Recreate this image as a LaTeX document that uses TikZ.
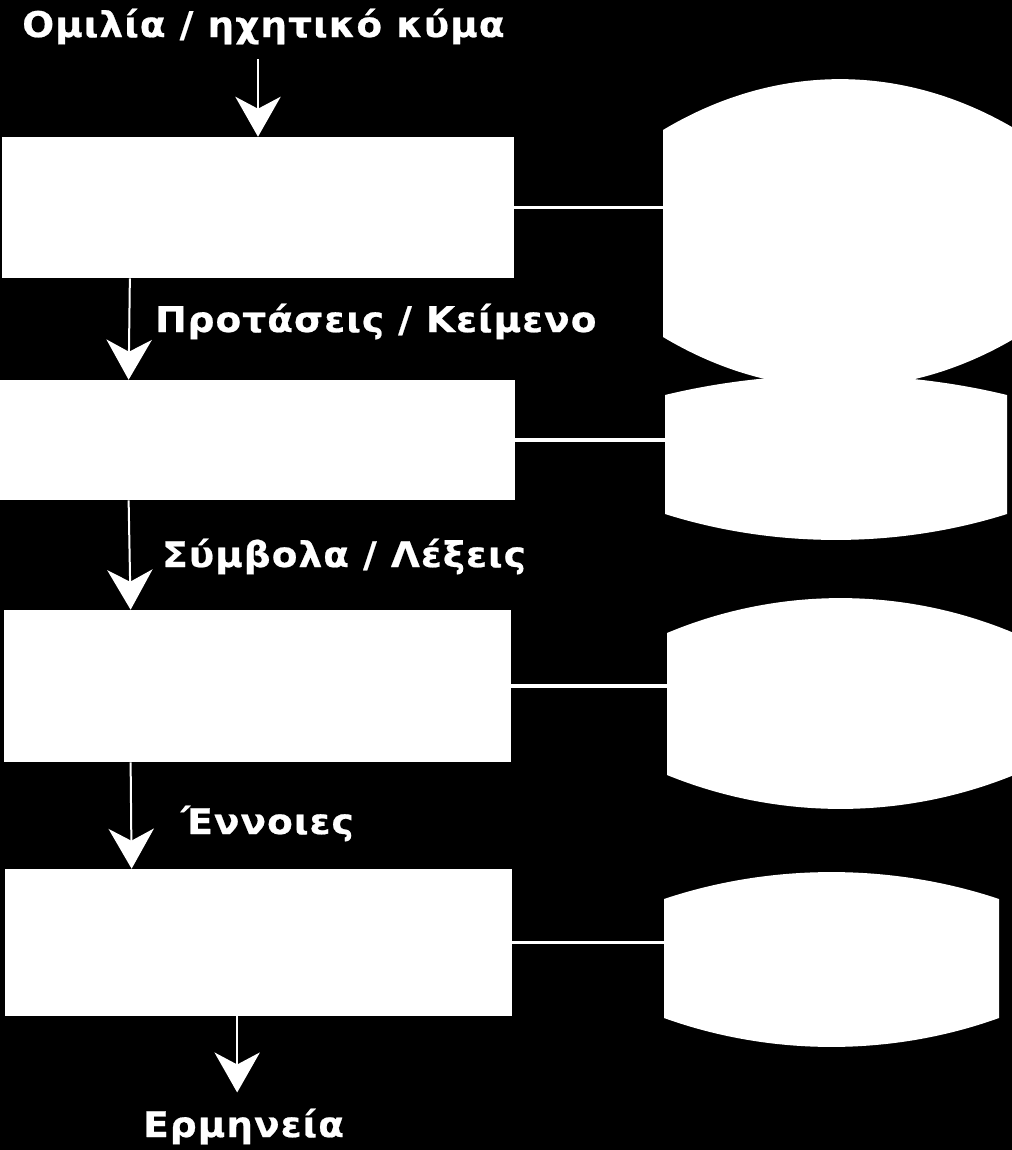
\documentclass[tikz,border=0pt]{standalone}
\usepackage{fontspec}
\setmainfont{DejaVu Sans}[LetterSpace=3,FakeStretch=1.06,FakeBold=0.6]
\usetikzlibrary{arrows.meta,calc}
% name, left, right, top, bottom, bulge top, bulge bottom (pixel units)
\newcommand{\barrelshape}[7]{%
  \fill[white] (#2,#4) .. controls ({#2+0.32*(#3-#2)},{#4-1.33*#6}) and ({#3-0.32*(#3-#2)},{#4-1.33*#6}) .. (#3,#4)
    -- (#3,#5) .. controls ({#3-0.32*(#3-#2)},{#5+1.33*#7}) and ({#2+0.32*(#3-#2)},{#5+1.33*#7}) .. (#2,#5) -- cycle;
  \coordinate (#1) at (#2,{(#4+#5)/2});}

\begin{document}
\begin{tikzpicture}[x=0.75pt,y=-0.75pt,font=\bfseries\fontsize{26.5}{30}\selectfont,
  blk/.style={fill=white,inner sep=0pt},
  ed/.style={-{Stealth[length=30pt,width=34pt,inset=9pt]},white,line width=1.5pt},
  lnk/.style={white,line width=2.4pt},
  lab/.style={text=white,inner sep=0pt,anchor=base west}]
\useasboundingbox (0,0) rectangle (1012,1150);
\fill[black] (0,0) rectangle (1012,1150);
\clip (0,0) rectangle (1012,1150);
% stages
\node[blk,minimum width=384pt,minimum height=105.75pt] (b1) at (258,207.5) {};
\node[blk,minimum width=386.25pt,minimum height=90pt] (b2) at (257.5,440) {};
\node[blk,minimum width=380.25pt,minimum height=114pt] (b3) at (257.5,686) {};
\node[blk,minimum width=380.25pt,minimum height=110.25pt] (b4) at (258.5,942.5) {};
% side shapes
\barrelshape{w1}{663}{1017}{130}{337}{51}{51}
\barrelshape{w2}{665}{1007}{395}{514}{20}{26}
\barrelshape{w3}{667}{1014}{633}{775}{35}{34}
\barrelshape{w4}{664}{999}{899}{1018}{27}{29}
% labels
\node[lab] (in) at (22,37) {Ομιλία / ηχητικό κύμα};
\node[lab] (t1) at (155,332) {Προτάσεις / Κείμενο};
\node[lab] (t2) at (162,567) {Σύμβολα / Λέξεις};
\node[lab] (t3) at (181,834) {Έννοιες};
\node[lab] (out) at (143,1137) {Ερμηνεία};
% arrows
\draw[ed,shorten <=11pt] (b1.north |- in.south) -- (b1.north);
\foreach \a/\b in {b1/b2,b2/b3,b3/b4}
  \draw[ed] ($(\a.south west)!.25!(\a.south east)$) -- ($(\b.north west)!.25!(\b.north east)$);
\draw[ed,shorten >=12pt] ($(b4.south west)!.458!(b4.south east)$) coordinate (o) -- (o |- out.north);
\foreach \i in {1,...,4} \draw[lnk] (b\i.east) -- (b\i.east -| w\i);
\end{tikzpicture}
\end{document}
